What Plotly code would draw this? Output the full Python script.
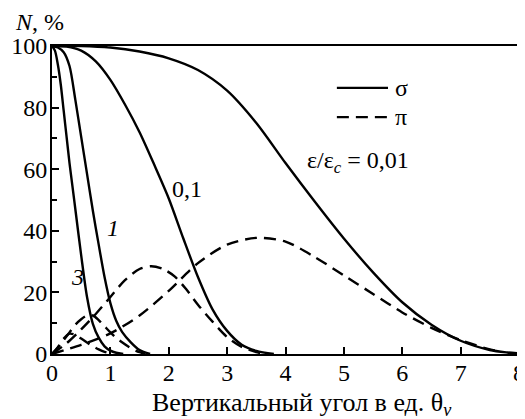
import plotly.graph_objects as go

# ---- data ----
# sigma component (solid)
s001_x = [0, 0.5, 1.0, 1.5, 2.0, 2.5, 3.0, 3.5, 4.0, 4.5, 5.0, 5.5, 6.0, 6.5, 7.0, 7.5, 7.8, 8.0]
s001_y = [100, 100, 99.5, 98.2, 96, 92.2, 85.5, 75, 62, 49.5, 37.5, 26.5, 16.8, 9.5, 4.3, 1.3, 0.5, 0.2]

s01_x = [0, 0.25, 0.5, 0.75, 1.0, 1.25, 1.5, 1.75, 2.0, 2.25, 2.5, 2.75, 3.0, 3.25, 3.5, 3.8]
s01_y = [100, 99.8, 98.5, 95, 89, 81, 72, 61.5, 50.5, 37.5, 25, 14.5, 7.5, 3, 1, 0]

s1_x = [0, 0.1, 0.2, 0.3, 0.4, 0.5, 0.6, 0.7, 0.8, 0.9, 1.0, 1.1, 1.2, 1.35, 1.5, 1.68]
s1_y = [100, 99.5, 98, 93.5, 82.5, 70.5, 58.5, 46.5, 35.5, 25, 16.5, 10.8, 7.2, 3.8, 1.3, 0]

s3_x = [0, 0.05, 0.1, 0.15, 0.2, 0.25, 0.3, 0.35, 0.4, 0.5, 0.6, 0.7, 0.8, 0.9, 1.0, 1.1, 1.22]
s3_y = [100, 98.5, 94, 87.5, 79, 70.5, 62, 54.5, 47, 32, 18.5, 9.8, 5.3, 2.5, 1.1, 0.4, 0]

# pi component (dashed)
p001_x = [0, 0.5, 1.0, 1.5, 2.0, 2.5, 3.0, 3.5, 4.0, 4.5, 5.0, 5.5, 6.0, 6.5, 7.0, 7.5, 7.7]
p001_y = [0, 3, 6.7, 12.5, 20.5, 29.5, 35.5, 37.7, 36.5, 31.5, 25.5, 19.5, 13.5, 8.5, 4.5, 1.5, 0.8]

p01_x = [0, 0.25, 0.5, 0.75, 1.0, 1.25, 1.5, 1.7, 1.9, 2.1, 2.3, 2.5, 2.75, 3.0, 3.25, 3.5, 3.65]
p01_y = [0, 3.5, 8, 13, 18.5, 24, 27.6, 28.5, 27.6, 25.2, 21, 16, 10.5, 5.5, 2.3, 0.6, 0]

p1_x = [0, 0.1, 0.2, 0.3, 0.4, 0.5, 0.6, 0.7, 0.8, 0.9, 1.0, 1.1, 1.2, 1.3, 1.4, 1.5, 1.6]
p1_y = [0, 2, 4.5, 7, 9.5, 11.3, 12.5, 12.5, 11, 9, 7, 5.2, 3.8, 2.5, 1.4, 0.6, 0]

p3_x = [0, 0.1, 0.2, 0.3, 0.4, 0.5, 0.6, 0.7, 0.8, 0.9, 1.0, 1.05]
p3_y = [0, 2.2, 5, 6.6, 6.2, 5, 3.7, 2.5, 1.5, 0.7, 0.2, 0]

x_ticks = [0, 1, 2, 3, 4, 5, 6, 7, 8]
y_ticks = [0, 20, 40, 60, 80, 100]

curve_labels = [
    ("0,1", 2.31, 53.7, False),
    ("1", 1.04, 41, True),
    ("3", 0.43, 25, True),
    ("ε/ε<sub><i>c</i></sub> = 0,01", 5.24, 62.2, False),
]

FONT = "Liberation Serif, DejaVu Serif, serif"
TXT = 24
LW = 2.4
DASH = "12px,7px"

fig = go.Figure()
for xs, ys in [(s001_x, s001_y), (s01_x, s01_y), (s1_x, s1_y), (s3_x, s3_y)]:
    fig.add_trace(go.Scatter(x=xs, y=ys, mode="lines", line=dict(color="black", width=LW, shape="spline", smoothing=0.8), showlegend=False, hoverinfo="skip"))
for xs, ys in [(p001_x, p001_y), (p01_x, p01_y), (p1_x, p1_y), (p3_x, p3_y)]:
    fig.add_trace(go.Scatter(x=xs, y=ys, mode="lines", line=dict(color="black", width=LW, dash=DASH, shape="spline", smoothing=0.8), showlegend=False, hoverinfo="skip"))

for txt, xx, yy, ital in curve_labels:
    fig.add_annotation(x=xx, y=yy, xref="x", yref="y", text=(f"<i>{txt}</i>" if ital else txt),
                       showarrow=False, xanchor="center", yanchor="middle",
                       font=dict(family=FONT, size=TXT, color="black"))

# legend samples (paper coordinates)
leg_x0, leg_x1 = 0.610, 0.7195
leg_rows = [(0.864, "solid", "σ"), (0.769, DASH, "π")]
for yy, dsh, sym in leg_rows:
    fig.add_shape(type="line", xref="paper", yref="paper", x0=leg_x0, x1=leg_x1, y0=yy, y1=yy,
                  line=dict(color="black", width=LW, dash=dsh))
    fig.add_annotation(x=leg_x1 + 0.01, y=yy, xref="paper", yref="paper", text=sym, showarrow=False,
                       xanchor="left", yanchor="middle", font=dict(family=FONT, size=TXT, color="black"))

fig.add_annotation(x=-0.0257, y=1.078, xref="paper", yref="paper", text="<i>N</i>, %", showarrow=False,
                   xanchor="center", yanchor="middle", font=dict(family=FONT, size=TXT, color="black"))
fig.add_annotation(x=0.536, y=-0.163, xref="paper", yref="paper",
                   text="Вертикальный угол в ед. θ<sub><i>v</i></sub>", showarrow=False,
                   xanchor="center", yanchor="middle", font=dict(family=FONT, size=26, color="black"))

fig.update_xaxes(range=[0, 8], tickvals=x_ticks, ticks="inside", ticklen=7, tickwidth=1.5, tickcolor="black",
                 showline=True, linecolor="black", linewidth=2, mirror=True, showgrid=False, zeroline=False,
                 automargin=False, ticklabelstandoff=-4, tickfont=dict(family=FONT, size=24, color="black"))
fig.update_yaxes(range=[0, 100], tickvals=y_ticks, ticks="inside", ticklen=7, tickwidth=1.5, tickcolor="black",
                 minor=dict(tickvals=[10, 30, 50, 70, 90], ticks="inside", ticklen=5, tickwidth=1.5, tickcolor="black"),
                 showline=True, linecolor="black", linewidth=2, mirror=True, showgrid=False, zeroline=False,
                 automargin=False, ticklabelstandoff=-2, tickfont=dict(family=FONT, size=24, color="black"))

# page body has an 8px margin, so the figure is sized/offset to land on the reference pixels
fig.update_layout(width=517, height=411, margin=dict(l=44, r=6, t=38, b=65),
                  plot_bgcolor="white", paper_bgcolor="white")

fig.write_html("out.html")
